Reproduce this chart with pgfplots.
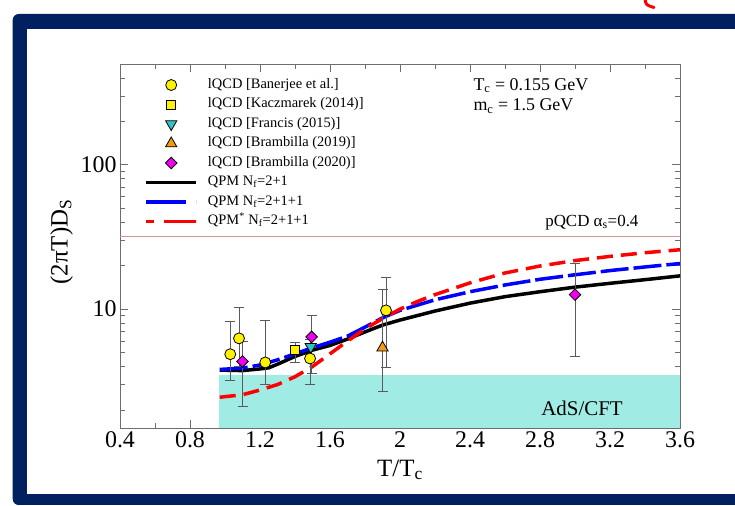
\documentclass[border=0pt]{standalone}
\usepackage{fontspec}
\setmainfont{Liberation Serif}
\usepackage{pgfplots}
\pgfplotsset{compat=1.18}
\definecolor{frameblue}{HTML}{00205F}
\definecolor{adsband}{HTML}{A0ECE4}
\definecolor{pqcd}{HTML}{C89A9A}
\definecolor{axgray}{HTML}{6E6E6E}
\definecolor{errgray}{HTML}{5A5A5A}
\definecolor{cyanmark}{HTML}{2EC4C4}
\definecolor{orangemark}{HTML}{F39C12}
\definecolor{yellowmark}{HTML}{FFF200}
\definecolor{magentamark}{HTML}{F000F0}
\begin{document}
\begin{tikzpicture}[x=1bp,y=1bp]
\useasboundingbox (0,0) rectangle (735,506);
\begin{scope}
\clip (0,0) rectangle (735,506);
\fill[frameblue, rounded corners=6bp] (12.7,1) rectangle (780,492);
\fill[white] (27.3,12) rectangle (780,476.7);
\draw[red, line width=3bp, line cap=round] (645,507) .. controls (646,501) .. (654,498.5);
\end{scope}
\begin{axis}[
  at={(120bp,78bp)}, anchor=south west, scale only axis,
  width=560bp, height=364bp,
  ymode=log, xmin=0.4, xmax=3.6, ymin=1.5, ymax=500,
  xtick={0.4,0.8,1.2,1.6,2,2.4,2.8,3.2,3.6},
  xticklabels={0.4,0.8,1.2,1.6,2,2.4,2.8,3.2,3.6},
  minor xtick={0.6,1.0,1.4,1.8,2.2,2.6,3.0,3.4},
  ytick={10,100}, yticklabels={10,100},
  minor ytick={2,3,4,5,6,7,8,9,20,30,40,50,60,70,80,90,200,300,400},
  tick align=inside, major tick length=8bp, minor tick length=5bp,
  axis line style={axgray, line width=0.8bp},
  tick style={axgray, line width=0.8bp},
  /pgf/number format/assume math mode=true,
  ticklabel style={font=\fontsize{24}{28}\selectfont},
  xlabel={T/T\textsubscript{c}}, ylabel={(2πT)D\textsubscript{S}},
  label style={font=\fontsize{25}{30}\selectfont},
  xlabel style={at={(axis description cs:0.5,-0.132)}, anchor=base},
  ylabel style={at={(axis description cs:-0.104,0.511)}, anchor=center},
  legend style={at={(axis description cs:0.038,0.975)}, anchor=north west,
    draw=none, fill=none, font=\fontsize{14.5}{17}\selectfont, row sep=0bp,
    cells={anchor=west}, nodes={inner ysep=2.5bp, inner xsep=2bp, text height=10.5bp, text depth=4bp},
    /tikz/every odd column/.append style={column sep=8bp}},
  legend image code/.code={\draw[mark repeat=2,mark phase=2,#1] plot coordinates {(0bp,0bp) (25bp,0bp) (50bp,0bp)};},
  error bars/error bar style={errgray, line width=1bp},
  error bars/error mark options={rotate=90, errgray, mark size=5bp, line width=1bp},
]
% AdS/CFT band
\addplot[fill=adsband, draw=none, forget plot] coordinates {(0.966,1.5) (0.966,3.5) (3.6,3.5) (3.6,1.5)} -- cycle;
% pQCD line
\addplot[pqcd, line width=1bp, forget plot] coordinates {(0.4,32) (3.6,32)};
% QPM curves
\addplot[black, line width=3.5bp, line join=round, forget plot] coordinates {
(0.97,3.78) (1.1,3.75) (1.2,3.85) (1.25,3.92) (1.3,4.15) (1.4,4.7) (1.5,5.2) (1.6,5.6)
(1.7,6.2) (1.8,6.95) (1.9,7.75) (2.0,8.4) (2.2,9.7) (2.4,11.0) (2.6,12.2) (2.8,13.2)
(3.0,14.2) (3.2,15.1) (3.4,16.0) (3.6,17.0)};
\addplot[blue, line width=3.5bp, dash pattern=on 28bp off 5bp, forget plot] coordinates {
(0.97,3.82) (1.1,3.9) (1.2,4.1) (1.3,4.45) (1.4,4.9) (1.5,5.4) (1.6,5.9) (1.7,6.5)
(1.8,7.5) (1.9,8.7) (2.0,9.8) (2.2,11.6) (2.4,13.2) (2.6,14.7) (2.8,16.1) (3.0,17.3)
(3.2,18.5) (3.4,19.6) (3.6,20.7)};
\addplot[red, line width=3.5bp, dash pattern=on 16bp off 8bp, forget plot] coordinates {
(0.97,2.45) (1.1,2.55) (1.2,2.75) (1.3,3.0) (1.4,3.4) (1.5,4.0) (1.6,4.9) (1.7,6.0)
(1.8,7.3) (1.9,8.6) (2.0,10.0) (2.1,11.3) (2.2,12.6) (2.4,15.2) (2.6,17.8) (2.8,19.9)
(3.0,21.7) (3.2,23.2) (3.4,24.6) (3.6,25.8)};
% lattice data
\addplot[only marks, mark=*, mark size=5.5bp, mark options={fill=yellowmark, draw=black, line width=0.8bp},
  error bars/.cd, y dir=both, y explicit]
  table[x=x, y=y, y error plus=ep, y error minus=em] {
x y ep em
1.03 4.87 3.29 1.67
1.08 6.27 3.93 2.27
1.23 4.27 4.03 1.27
1.486 4.55 1.65 1.55
1.92 9.8 6.8 5.86
};
\addlegendentry{lQCD [Banerjee et al.]}
\addplot[only marks, mark=square*, mark size=4.5bp, mark options={fill=yellowmark, draw=black, line width=0.8bp},
  error bars/.cd, y dir=both, y explicit]
  table[x=x, y=y, y error plus=ep, y error minus=em] {
x y ep em
1.40 5.19 0.68 0.92
};
\addlegendentry{lQCD [Kaczmarek (2014)]}
\addplot[only marks, mark=triangle*, mark size=6.5bp, mark options={fill=cyanmark, draw=black, line width=0.8bp, rotate=180}]
  coordinates {(1.49,5.48)};
\addlegendentry{lQCD [Francis (2015)]}
\addplot[only marks, mark=triangle*, mark size=6.5bp, mark options={fill=orangemark, draw=black, line width=0.8bp},
  error bars/.cd, y dir=both, y explicit]
  table[x=x, y=y, y error plus=ep, y error minus=em] {
x y ep em
1.90 5.4 8.2 2.73
};
\addlegendentry{lQCD [Brambilla (2019)]}
\addplot[only marks, mark=square*, mark size=4.1bp, mark options={fill=magentamark, draw=black, line width=0.8bp, rotate=45},
  error bars/.cd, y dir=both, y explicit]
  table[x=x, y=y, y error plus=ep, y error minus=em] {
x y ep em
1.10 4.34 1.66 2.24
1.495 6.42 2.68 2.82
3.0 12.6 8.1 7.94
};
\addlegendentry{lQCD [Brambilla (2020)]}
\addlegendimage{black, line width=3.5bp}
\addlegendentry{QPM N\textsubscript{f}=2+1}
\addlegendimage{blue, line width=3.5bp, dash pattern=on 40bp off 10bp}
\addlegendentry{QPM N\textsubscript{f}=2+1+1}
\addlegendimage{red, line width=3.5bp, dash pattern=on 8bp off 10bp on 32bp off 0bp}
\addlegendentry{QPM\textsuperscript{*} N\textsubscript{f}=2+1+1}
% annotations
\node[anchor=west, font=\fontsize{18}{20}\selectfont] at (axis cs:2.4,354) {T\textsubscript{c} = 0.155 GeV};
\node[anchor=west, font=\fontsize{18}{20}\selectfont] at (axis cs:2.4,255) {m\textsubscript{c} = 1.5 GeV};
\node[anchor=west, font=\fontsize{17}{20}\selectfont] at (axis cs:2.81,40) {pQCD α\textsubscript{s}=0.4};
\node[font=\fontsize{21}{24}\selectfont] at (axis cs:3.04,2.05) {AdS/CFT};
\end{axis}
\end{tikzpicture}
\end{document}
